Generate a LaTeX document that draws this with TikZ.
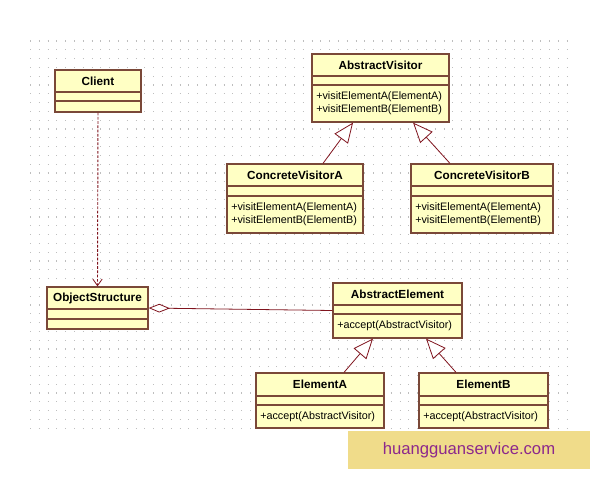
\documentclass[tikz,border=0pt]{standalone}
\usepackage{fontspec}
\setmainfont{Liberation Sans}
\usetikzlibrary{arrows.meta,fit}
\definecolor{clsfill}{RGB}{255,255,196}
\definecolor{clsborder}{RGB}{122,72,56}
\definecolor{linkred}{RGB}{128,20,30}
\definecolor{gridgray}{RGB}{190,190,190}
\definecolor{wmfill}{RGB}{240,220,138}
\definecolor{wmtext}{RGB}{140,40,140}
\tikzset{
  cls/.style={draw=clsborder, fill=clsfill, line width=0.9pt, inner sep=0pt},
  clsline/.style={draw=clsborder, line width=0.8pt},
  clstitle/.style={font=\bfseries\fontsize{8.8}{10}\selectfont, inner sep=0pt},
  clsmeth/.style={font=\fontsize{8.1}{9.75}\selectfont, align=left, inner sep=0pt, anchor=west},
  inherit/.style={draw=linkred, line width=0.6pt, -{Triangle[open, length=15pt, width=12.5pt, fill=white]}},
  depend/.style={draw=linkred, line width=0.7pt, dash pattern=on 2pt off 1.2pt, -{Straight Barb[length=5pt, width=7pt, line width=0.6pt]}},
  aggreg/.style={draw=linkred, line width=0.6pt, {Diamond[open, length=16pt, width=6.5pt, fill=white]}-},
  dotrow/.style={draw=gridgray, line width=0.8pt, dash pattern=on 0.8pt off 5.8pt},
}
\newcommand\umlcls[9]{%
  \node[cls, fit={(#2,#3) (#4,#5)}] (#1) {};
  \draw[clsline] (#2,#6) -- (#4,#6);
  \draw[clsline] (#2,#7) -- (#4,#7);
  \node[clstitle] at ({(#2+#4)/2},{(#3+#6)/2}) {#8};
  \node[clsmeth] at ({#2+4},{(#7+#5)/2}) {#9};
}
\begin{document}
\begin{tikzpicture}[x=0.75pt, y=-0.75pt]
\useasboundingbox[fill=white] (0,0) rectangle (600,480);
% dotted grid
\foreach \r in {0,...,44} {
  \draw[dotrow] (30,{41+\r*8.8}) -- (573,{41+\r*8.8});
}
% classes
\umlcls{client}{55}{70}{141}{112}{92}{101}{Client}{}
\umlcls{av}{312}{54}{449}{122}{76}{85}{AbstractVisitor}{+visitElementA(ElementA)\\+visitElementB(ElementB)}
\umlcls{cva}{227}{164}{363}{233}{186}{196}{ConcreteVisitorA}{+visitElementA(ElementA)\\+visitElementB(ElementB)}
\umlcls{cvb}{411}{164}{553}{233}{186}{196}{ConcreteVisitorB}{+visitElementA(ElementA)\\+visitElementB(ElementB)}
\umlcls{os}{47}{287}{148}{329}{309}{319}{ObjectStructure}{}
\umlcls{ae}{333}{283}{462}{338}{305}{314}{AbstractElement}{+accept(AbstractVisitor)}
\umlcls{ea}{256}{373}{384}{428}{396}{405}{ElementA}{+accept(AbstractVisitor)}
\umlcls{eb}{419}{373}{548}{428}{396}{405}{ElementB}{+accept(AbstractVisitor)}
% connectors
\draw[depend] (client.south) -- (os.north);
\draw[inherit] ([xshift=21pt]cva.north) -- ([xshift=-20.6pt]av.south);
\draw[inherit] ([xshift=-24pt]cvb.north) -- ([xshift=24.4pt]av.south);
\draw[aggreg] (os.east) -- (ae.west);
\draw[inherit] ([xshift=18pt]ea.north) -- ([xshift=-18.4pt]ae.south);
\draw[inherit] ([xshift=-20.6pt]eb.north) -- ([xshift=21.4pt]ae.south);
% watermark
\node[fill=wmfill, inner sep=0pt, fit={(348,431) (590,469)}] (wm) {};
\node[text=wmtext, font=\fontsize{12.5}{14}\selectfont] at (469,450) {huangguanservice.com};
\end{tikzpicture}
\end{document}
